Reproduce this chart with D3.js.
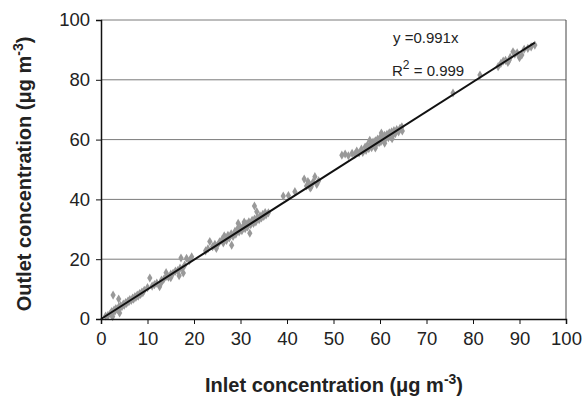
<!DOCTYPE html>
<html>
<head>
<meta charset="utf-8">
<script src="https://cdn.jsdelivr.net/npm/d3@7"></script>
<style>
  body { margin: 0; background: #fff; }
  text { font-family: "Liberation Sans", Arial, sans-serif; fill: #222; }
</style>
</head>
<body>
<div id="chart"></div>
<script>
// inlet / outlet pairs (µg m-3)
var inlet = [
  1, 1.5, 2, 2.3, 2.5, 2.8, 3, 3.2, 3.5, 3.8, 4, 4.2, 4.5, 4.8, 5, 5.3, 5.5, 5.8, 6, 6.2,
  6.5, 6.8, 7, 7.3, 7.5, 7.8, 8, 8.3, 8.5, 8.8, 9, 2.6, 3.8, 4.0, 2.5, 9.3,
  10, 10.5, 11, 11.5, 12, 12.6, 13, 13.5, 14, 14.5, 15, 15.5, 16, 16.5, 17, 17.5, 18,
  17.2, 18.4, 16.8, 15, 19, 14, 13, 17.7, 19.5,
  22.5, 23, 23.4, 24, 24.5, 24.8, 25, 25.5, 26, 26.3, 26.5, 26.8, 27, 27.3, 27.6, 28, 28.1,
  28.4, 28.8, 29, 29.3, 29.5, 29.7, 30, 30.3, 30.6, 30.8, 31, 31.2, 31.5, 31.8, 32, 32.2,
  32.5, 32.8, 33, 33, 33.3, 33.5, 33.6, 34, 34.2, 34.5, 34.8, 35, 35.3, 35.5, 36,
  39.2, 40.3, 41.7, 43.7, 44.2, 44.8, 45.2, 45.6, 46, 46.4, 46.8, 45, 44.5,
  51.8, 52.5, 53.2, 54, 54.6, 55, 55.5, 56, 56.3, 56.8, 57, 57.3, 57.6, 58, 58.2, 58.5,
  58.8, 59, 59.2, 59.5, 59.8, 60, 60.2, 60.5, 60.8, 61, 61.2, 61.5, 61.8, 62, 62.3, 62.5,
  62.8, 63, 63.3, 63.6, 64, 64.3, 64.7, 64.8, 59, 61, 62.6, 57.8, 60.3,
  75.7, 81.5,
  85.4, 86, 86.5, 87, 87.5, 88, 88.6, 89, 89.5, 90, 90.5, 91, 91.8, 92.5, 93.3, 87.8
];
var outlet = [
  1, 1.2, 1.8, 2.5, 2.2, 3, 2.6, 3.5, 3.2, 4, 3.6, 4.5, 4.1, 5, 4.6, 5.5, 5.2, 6, 5.8, 6.5,
  6.2, 7, 6.6, 7.5, 7.2, 8, 7.6, 8.5, 8.2, 9, 8.8, 8.0, 6.7, 2.0, 0.8, 9.6,
  10.5, 13.7, 11, 11.5, 12, 10.8, 13, 13.3, 14.2, 14, 15, 15.3, 16, 16.2, 17, 16.8, 18,
  20.4, 20.3, 14.5, 13.8, 19.5, 15.5, 12.2, 15.4, 20.8,
  22.8, 23.5, 25.9, 24.2, 25, 23.6, 24.6, 25.8, 26.5, 25.4, 27.8, 27.2, 26.3, 28, 27.1, 28.5, 24.7,
  27.6, 29.3, 28.4, 30, 32, 29.1, 30.6, 29.5, 31.2, 32.4, 30.2, 31.8, 30.8, 32.5, 28.7, 31.5,
  33, 32, 37.8, 33.4, 32.5, 35.9, 34, 33.2, 34.5, 33.8, 35, 34.3, 35.6, 34.8, 35.5,
  41.1, 41.3, 42.6, 46.8, 44.5, 45.2, 44.2, 45.8, 47.6, 45, 46.2, 43.8, 46,
  54.8, 55.2, 54.6, 55.4, 55, 56.2, 55.5, 56.8, 55.7, 57.5, 56.4, 58.2, 57, 58.6, 57.3, 59.2,
  58, 59.6, 58.4, 60.2, 59, 60.6, 59.3, 61, 59.8, 61.4, 60.3, 61.8, 60.6, 62.3, 61, 62.6,
  61.5, 63, 62, 63.4, 62.6, 63.8, 64.3, 62.9, 57.2, 58.8, 60.3, 59.8, 62.2,
  75.6, 81.6,
  84.4, 85.5, 86.3, 86.5, 85.8, 87.5, 89.4, 88.6, 89, 87.4, 88.3, 90.2, 90.5, 91, 91.6, 86.6
];
var xTicks = [0, 10, 20, 30, 40, 50, 60, 70, 80, 90, 100];
var yTicks = [0, 20, 40, 60, 80, 100];
var slope = 0.991;
var fitRange = [0, 93.3];

!function() {
    var W = 585, H = 397;
    var mLeft = 101, mRight = 566, mTop = 20, mBottom = 319;

    var svg = d3.select('#chart').append('svg')
        .attr('width', W).attr('height', H);

    var fx = d3.scaleLinear().domain([0, 100]).range([mLeft, mRight]);
    var fy = d3.scaleLinear().domain([0, 100]).range([mBottom, mTop]);

    // grid lines (incl. top edge)
    svg.append('g').selectAll('line')
        .data(yTicks.filter(function(d) { return d > 0; })).enter()
        .append('line')
          .attr('x1', mLeft).attr('x2', mRight)
          .attr('y1', function(d) { return fy(d); })
          .attr('y2', function(d) { return fy(d); })
          .attr('stroke', '#7a7a7a').attr('stroke-width', 1);

    // right edge of frame
    svg.append('line')
        .attr('x1', mRight).attr('x2', mRight).attr('y1', mTop).attr('y2', mBottom)
        .attr('stroke', '#444').attr('stroke-width', 1);

    // points
    var pts = inlet.map(function(d, i) { return [d, outlet[i]]; });
    svg.append('g').selectAll('path')
        .data(pts).enter()
        .append('path')
          .attr('d', d3.symbol(d3.symbolDiamond, 24))
          .attr('transform', function(d) { return 'translate(' + fx(d[0]) + ',' + fy(d[1]) + ')'; })
          .attr('fill', '#999');

    // fit line
    svg.append('line')
        .attr('x1', fx(fitRange[0])).attr('y1', fy(fitRange[0] * slope))
        .attr('x2', fx(fitRange[1])).attr('y2', fy(fitRange[1] * slope))
        .attr('stroke', '#111').attr('stroke-width', 2);

    // axes
    var gx = svg.append('g').attr('transform', 'translate(0,' + mBottom + ')')
        .call(d3.axisBottom(fx).tickValues(xTicks).tickSize(5).tickPadding(8));
    var gy = svg.append('g').attr('transform', 'translate(' + mLeft + ',0)')
        .call(d3.axisLeft(fy).tickValues(yTicks).tickSize(5).tickPadding(6));
    [gx, gy].forEach(function(g) {
        g.select('.domain').attr('stroke', '#111').attr('stroke-width', 1.5);
        g.selectAll('.tick line').attr('stroke', '#111');
        g.selectAll('.tick text')
          .style('font-family', '"Liberation Sans", Arial, sans-serif')
          .style('font-size', '18.5px').attr('fill', '#222');
    });

    // titles
    var xt = svg.append('text')
        .attr('x', 334).attr('y', 392)
        .attr('text-anchor', 'middle')
        .style('font-size', '20px').style('font-weight', 'bold');
    xt.append('tspan').text('Inlet concentration (μg m');
    xt.append('tspan').attr('dy', -8).style('font-size', '14px').text('-3');
    xt.append('tspan').attr('dy', 8).text(')');

    var yt = svg.append('text')
        .attr('transform', 'translate(31,174) rotate(-90)')
        .attr('text-anchor', 'middle')
        .style('font-size', '20px').style('font-weight', 'bold');
    yt.append('tspan').text('Outlet concentration (μg m');
    yt.append('tspan').attr('dy', -8).style('font-size', '14px').text('-3');
    yt.append('tspan').attr('dy', 8).text(')');

    // equation
    svg.append('text')
        .attr('x', 393).attr('y', 43)
        .style('font-size', '15px')
        .text('y =0.991x');
    var r2 = svg.append('text')
        .attr('x', 392).attr('y', 76)
        .style('font-size', '15px');
    r2.append('tspan').text('R');
    r2.append('tspan').attr('dy', -7).style('font-size', '12px').text('2');
    r2.append('tspan').attr('dy', 7).text(' = 0.999');
}();
</script>
</body>
</html>
